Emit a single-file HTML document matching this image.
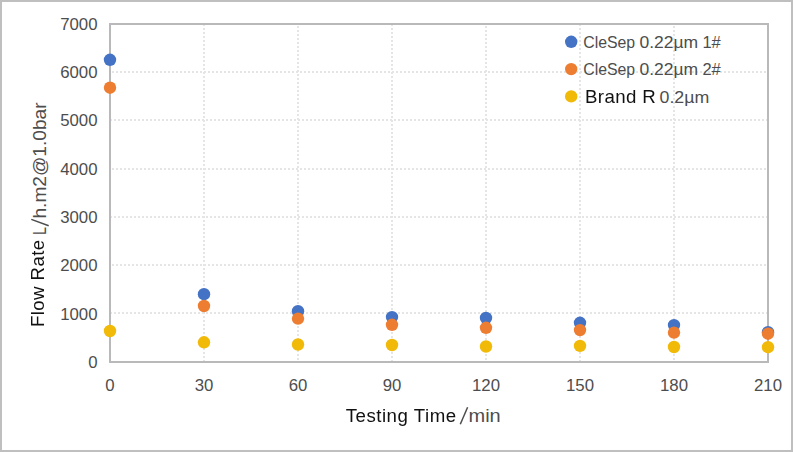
<!DOCTYPE html>
<html><head><meta charset="utf-8"><title>Flow Rate Chart</title>
<style>
html,body{margin:0;padding:0;background:#fff;}
body{width:794px;height:452px;overflow:hidden;font-family:"Liberation Sans",sans-serif;}
svg{display:block;}
text{font-family:"Liberation Sans",sans-serif;}
.c{fill:#4d4d4d;}
.a{fill:#111;filter:grayscale(1);}
</style></head><body>
<svg width="794" height="452" viewBox="0 0 794 452">
<rect x="0" y="0" width="794" height="452" fill="#fff"/>
<rect x="1" y="1" width="791" height="450" fill="none" stroke="#bfbfbf" stroke-width="2" shape-rendering="crispEdges"/>
<g stroke="#e5e5e5" stroke-width="2" stroke-dasharray="2 2" shape-rendering="crispEdges" fill="none">
<line x1="112" y1="72" x2="767" y2="72"/>
<line x1="110" y1="120" x2="767" y2="120"/>
<line x1="112" y1="169" x2="767" y2="169"/>
<line x1="110" y1="217" x2="767" y2="217"/>
<line x1="112" y1="265" x2="767" y2="265"/>
<line x1="110" y1="313" x2="767" y2="313"/>
<line x1="204" y1="24" x2="204" y2="361"/>
<line x1="298" y1="26" x2="298" y2="361"/>
<line x1="392" y1="24" x2="392" y2="361"/>
<line x1="486" y1="26" x2="486" y2="361"/>
<line x1="580" y1="24" x2="580" y2="361"/>
<line x1="674" y1="26" x2="674" y2="361"/>
</g>
<rect x="110" y="24" width="658" height="338" fill="none" stroke="#b9b9b9" stroke-width="2" shape-rendering="crispEdges"/>
<g fill="#4472c4"><circle cx="110" cy="59.8" r="6.2"/><circle cx="204" cy="294.2" r="6.2"/><circle cx="298" cy="311.2" r="6.2"/><circle cx="392" cy="317.1" r="6.2"/><circle cx="486" cy="317.9" r="6.2"/><circle cx="580" cy="322.8" r="6.2"/><circle cx="674" cy="325.1" r="6.2"/><circle cx="768" cy="332.2" r="6.2"/></g>
<g fill="#ed7d31"><circle cx="110" cy="87.7" r="6.2"/><circle cx="204" cy="306" r="6.2"/><circle cx="298" cy="318.6" r="6.2"/><circle cx="392" cy="324.8" r="6.2"/><circle cx="486" cy="327.8" r="6.2"/><circle cx="580" cy="330.1" r="6.2"/><circle cx="674" cy="332.6" r="6.2"/><circle cx="768" cy="333.7" r="6.2"/></g>
<g fill="#f1ba08"><circle cx="110" cy="331" r="6.2"/><circle cx="204" cy="342.3" r="6.2"/><circle cx="298" cy="344.5" r="6.2"/><circle cx="392" cy="345" r="6.2"/><circle cx="486" cy="346.5" r="6.2"/><circle cx="580" cy="345.9" r="6.2"/><circle cx="674" cy="347" r="6.2"/><circle cx="768" cy="347.2" r="6.2"/></g>
<text class="c" x="97.5" y="368" font-size="16.8" text-anchor="end">0</text>
<text class="c" x="97.5" y="320" font-size="16.8" text-anchor="end">1000</text>
<text class="c" x="97.5" y="271" font-size="16.8" text-anchor="end">2000</text>
<text class="c" x="97.5" y="223" font-size="16.8" text-anchor="end">3000</text>
<text class="c" x="97.5" y="175" font-size="16.8" text-anchor="end">4000</text>
<text class="c" x="97.5" y="126" font-size="16.8" text-anchor="end">5000</text>
<text class="c" x="97.5" y="78" font-size="16.8" text-anchor="end">6000</text>
<text class="c" x="97.5" y="30" font-size="16.8" text-anchor="end">7000</text>
<text class="c" x="110" y="391" font-size="16.8" text-anchor="middle">0</text>
<text class="c" x="204" y="391" font-size="16.8" text-anchor="middle">30</text>
<text class="c" x="298" y="391" font-size="16.8" text-anchor="middle">60</text>
<text class="c" x="392" y="391" font-size="16.8" text-anchor="middle">90</text>
<text class="c" x="486" y="391" font-size="16.8" text-anchor="middle">120</text>
<text class="c" x="580" y="391" font-size="16.8" text-anchor="middle">150</text>
<text class="c" x="674" y="391" font-size="16.8" text-anchor="middle">180</text>
<text class="c" x="768" y="391" font-size="16.8" text-anchor="middle">210</text>
<text class="a" x="345.7" y="421.5" font-size="18.67" letter-spacing="0.5">Testing</text>
<text class="a" x="413.8" y="421.5" font-size="18.67" letter-spacing="0.55">Time</text>
<line x1="460.3" y1="424.2" x2="467.6" y2="407.2" stroke="#4d4d4d" stroke-width="1.5"/>
<text class="c" x="468.5" y="421.7" font-size="18.5" textLength="32.2" lengthAdjust="spacingAndGlyphs">min</text>
<g transform="translate(43.8,327) rotate(-90)"><text class="a" x="0" y="0" font-size="18.67" letter-spacing="0.4">Flow Rate</text><text class="c" x="92" y="2.2" font-size="18.5" textLength="8" lengthAdjust="spacingAndGlyphs">L</text><text class="c" x="108.5" y="2.2" font-size="18.5" textLength="116" lengthAdjust="spacingAndGlyphs">h.m2@1.0bar</text></g>
<line x1="48.7" y1="225.8" x2="31.3" y2="219.4" stroke="#4d4d4d" stroke-width="1.5"/>
<circle cx="571.2" cy="41.8" r="6.2" fill="#4472c4"/>
<circle cx="571.2" cy="69.1" r="6.2" fill="#ed7d31"/>
<circle cx="571.2" cy="96.4" r="6.2" fill="#f1ba08"/>
<text class="c" x="583.2" y="47.8" font-size="16.2" textLength="52" lengthAdjust="spacingAndGlyphs">CleSep</text><text class="c" x="639.4" y="47.8" font-size="16.2" textLength="58.8" lengthAdjust="spacingAndGlyphs">0.22µm</text><text class="c" x="702.4" y="47.8" font-size="16.2" textLength="18.4" lengthAdjust="spacingAndGlyphs">1#</text>
<text class="c" x="583.2" y="75.0" font-size="16.2" textLength="52" lengthAdjust="spacingAndGlyphs">CleSep</text><text class="c" x="639.4" y="75.0" font-size="16.2" textLength="58.8" lengthAdjust="spacingAndGlyphs">0.22µm</text><text class="c" x="702.4" y="75.0" font-size="16.2" textLength="18.4" lengthAdjust="spacingAndGlyphs">2#</text>
<text class="a" x="585" y="102.8" font-size="18.67" letter-spacing="0.4">Brand R</text>
<text class="c" x="659.5" y="102.8" font-size="16.3" textLength="49.8" lengthAdjust="spacingAndGlyphs">0.2µm</text>
</svg>
</body></html>
